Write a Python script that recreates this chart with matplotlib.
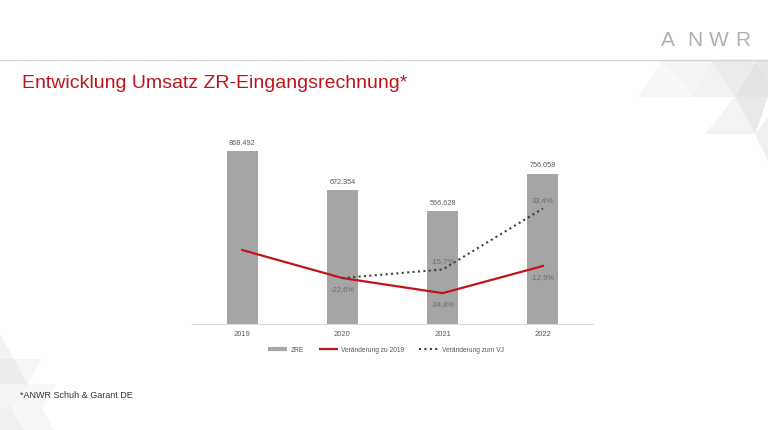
import matplotlib
matplotlib.use("Agg")
import matplotlib.pyplot as plt
from matplotlib.patches import Polygon
from matplotlib.lines import Line2D

years = ["2019", "2020", "2021", "2022"]
zre = [868.492, 672.354, 566.628, 756.058]
zre_labels = ["868.492", "672.354", "566.628", "756.058"]
chg_2019 = [0.0, -22.6, -34.8, -12.9]
chg_vj_years = ["2020", "2021", "2022"]
chg_vj = [-22.6, -15.7, 33.4]

W, H = 768, 431
fig = plt.figure(figsize=(W / 100, H / 100), dpi=100)
fig.patch.set_facecolor("white")
plt.rcParams["font.family"] = ["Liberation Sans", "DejaVu Sans"]


def px(x, y):
    return (x / W, 1 - y / H)


# decorative background triangles (very faint)
tris = [
    ([(637, 98), (663, 62), (693, 98)], "#f8f8f8"),
    ([(663, 62), (712, 62), (693, 98)], "#f4f4f4"),
    ([(693, 98), (712, 62), (735, 98)], "#f1f1f1"),
    ([(712, 62), (756, 62), (735, 98)], "#ebebeb"),
    ([(756, 62), (768, 62), (768, 80)], "#e6e6e6"),
    ([(735, 98), (756, 62), (768, 80), (768, 98)], "#e4e4e4"),
    ([(705, 135), (735, 98), (755, 135)], "#f3f3f3"),
    ([(735, 98), (768, 98), (755, 135)], "#e9e9e9"),
    ([(755, 135), (768, 118), (768, 162)], "#efefef"),
    ([(0, 335), (14, 360), (0, 360)], "#f2f2f2"),
    ([(0, 360), (14, 360), (28, 385), (0, 385)], "#ececec"),
    ([(14, 360), (42, 360), (28, 385)], "#f5f5f5"),
    ([(0, 385), (28, 385), (12, 410), (0, 410)], "#f3f3f3"),
    ([(28, 385), (56, 385), (42, 410), (12, 410)], "#f8f8f8"),
    ([(0, 410), (12, 410), (24, 431), (0, 431)], "#efefef"),
    ([(12, 410), (42, 410), (54, 431), (24, 431)], "#f6f6f6"),
]
for pts, c in tris:
    fig.add_artist(Polygon([px(*p) for p in pts], closed=True, facecolor=c,
                           edgecolor="none", transform=fig.transFigure, zorder=0))

# header line and logo
fig.add_artist(Line2D([0, 1], [px(0, 61)[1]] * 2, color="#d4d4d4", lw=1.0,
                      transform=fig.transFigure))
for ch, cx in zip("ANWR", [668, 695, 719, 743]):
    fig.text(*px(cx, 40), ch, fontsize=15, color="#b0b0b0", ha="center",
             va="center", family=["Liberation Sans", "DejaVu Sans"])

# title and footnote
fig.text(*px(22, 83), "Entwicklung Umsatz ZR-Eingangsrechnung*", fontsize=14,
         color="#c0141c", ha="left", va="center")
fig.text(*px(20, 396), "*ANWR Schuh & Garant DE", fontsize=6.5,
         color="#333333", ha="left", va="center")

# main axes
left, right = 192, 593
top, bottom = 130, 325
ax = fig.add_axes([left / W, 1 - bottom / H, (right - left) / W, (bottom - top) / H])
ax.set_facecolor("none")
x = list(range(len(years)))
ax.bar(x, zre, width=0.31, color="#a5a5a5", zorder=2)
ax.set_xlim(-0.5, 3.5)
ax.set_ylim(0, (bottom - top) / 0.199)
for xi, v, lab in zip(x, zre, zre_labels):
    ax.annotate(lab, (xi, v), xytext=(0, 4), textcoords="offset points",
                ha="center", va="bottom", fontsize=5.2, color="#595959")
ax.set_xticks(x)
ax.set_xticklabels(years, fontsize=5.5, color="#595959")
ax.tick_params(axis="x", length=0, pad=4)
ax.set_yticks([])
for s in ["top", "left", "right"]:
    ax.spines[s].set_visible(False)
ax.spines["bottom"].set_color("#d9d9d9")
ax.spines["bottom"].set_linewidth(0.8)

ax2 = ax.twinx()
ax2.set_facecolor("none")
scale = 1.24
ax2.set_ylim((251 - bottom) / scale, (251 - top) / scale)
ax2.set_yticks([])
for s in ax2.spines.values():
    s.set_visible(False)
ax2.plot(x, chg_2019, color="#c0141c", lw=1.6, zorder=3)
xv = [years.index(y) for y in chg_vj_years]
ax2.plot(xv, chg_vj, color="#404040", lw=1.5, ls=(0, (1, 1.6)), zorder=3)


def fmt(v):
    return f"{v:.1f}".replace(".", ",") + "%"


lab_col = "#6e6e6e"
for xi, v in zip(x[1:], chg_2019[1:]):
    ax2.annotate(fmt(v), (xi, v), xytext=(0, -5), textcoords="offset points",
                 ha="center", va="top", fontsize=5.5, color=lab_col, zorder=4)
for xi, v in zip(xv[1:], chg_vj[1:]):
    ax2.annotate(fmt(v), (xi, v), xytext=(0, 4), textcoords="offset points",
                 ha="center", va="bottom", fontsize=5.5, color=lab_col, zorder=4)

handles = [
    Line2D([], [], color="#a5a5a5", lw=3, solid_capstyle="butt"),
    Line2D([], [], color="#c0141c", lw=1.6, solid_capstyle="butt"),
    Line2D([], [], color="#404040", lw=1.5, ls=(0, (1, 1.6))),
]
labels = ["ZRE", "Veränderung zu 2019", "Veränderung zum VJ"]
fig.legend(handles, labels, loc="center", bbox_to_anchor=px(386, 351),
           ncol=3, frameon=False, fontsize=4.8, labelcolor="#595959",
           handlelength=2.9, columnspacing=2.2, handletextpad=0.5)

fig.savefig("out.png", dpi=100, facecolor="white")
